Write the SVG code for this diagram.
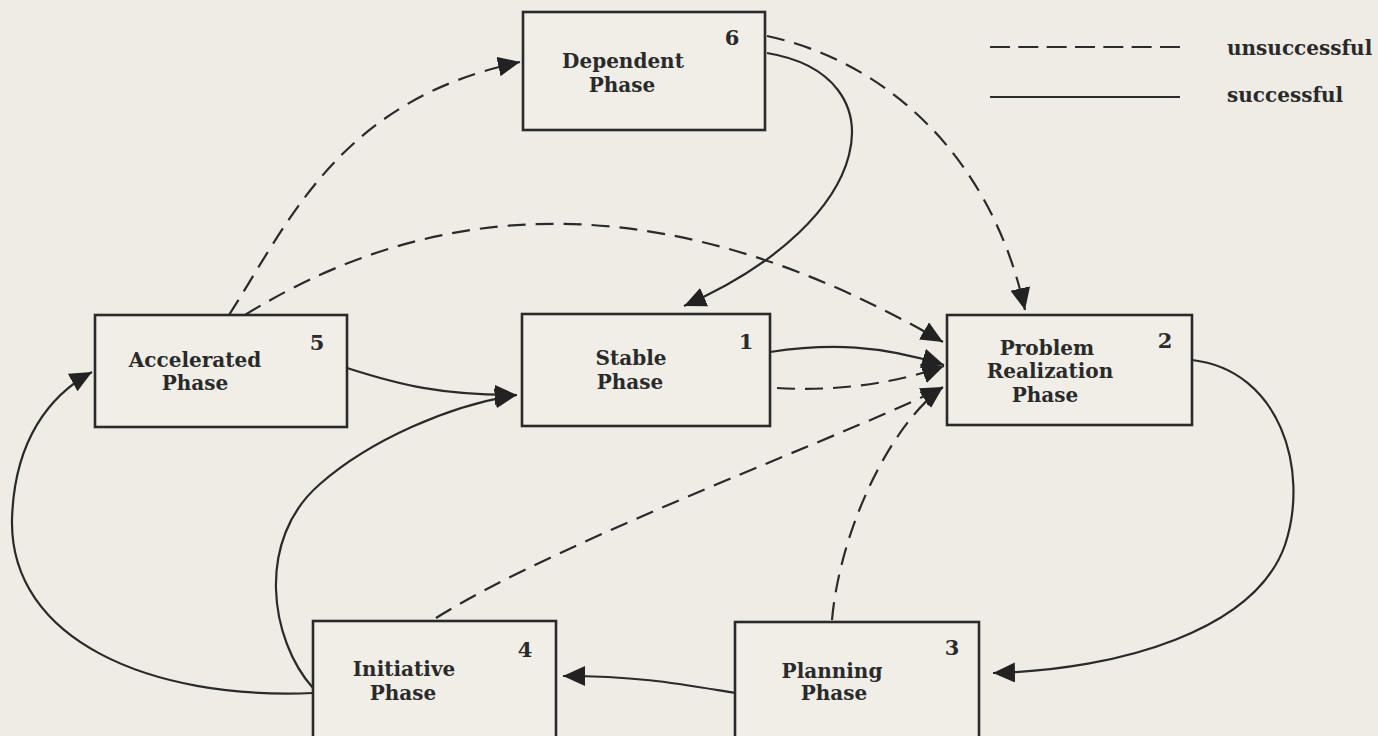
<svg xmlns="http://www.w3.org/2000/svg" width="1378" height="736" viewBox="0 0 1378 736">
<defs>
<style>
.bg{fill:#efece6}
.box{fill:#f1eee8;stroke:#2a2a2a;stroke-width:2.6}
.lbl{font-family:"DejaVu Serif","Liberation Serif",serif;font-weight:bold;font-size:20px;fill:#2a2a2a;text-anchor:middle}
.num{font-family:"DejaVu Serif","Liberation Serif",serif;font-weight:bold;font-size:21px;fill:#2a2a2a;text-anchor:middle}
.leg{font-family:"DejaVu Serif","Liberation Serif",serif;font-weight:bold;font-size:20px;fill:#2a2a2a}
.s{fill:none;stroke:#2a2a2a;stroke-width:2.2}
.d{fill:none;stroke:#2a2a2a;stroke-width:2.2;stroke-dasharray:18 10}
.a{marker-end:url(#ah)}
</style>
<marker id="ah" markerUnits="userSpaceOnUse" markerWidth="24" markerHeight="22" refX="22" refY="10" orient="auto" viewBox="0 0 24 22">
<path d="M0,0 L22,10 L0,20 z" fill="#222"/>
</marker>
</defs>
<rect class="bg" x="0" y="0" width="1378" height="736"/>

<g id="legend">
<line x1="990" y1="47" x2="1180" y2="47" stroke="#2a2a2a" stroke-width="2.2" stroke-dasharray="20 8.33"/>
<text class="leg" x="1227" y="55">unsuccessful</text>
<line x1="990" y1="97" x2="1180" y2="97" stroke="#2a2a2a" stroke-width="2.2"/>
<text class="leg" x="1227" y="102">successful</text>
</g>

<g id="connectors">
<!-- 6 -> 1 solid -->
<path class="s a" d="M767 53 C900 75 880 220 684 306"/>
<!-- 6 -> 2 dashed -->
<path class="d a" d="M767 36 C880 60 990 150 1025 310"/>
<!-- 5 -> 6 dashed -->
<path class="d a" d="M229 315 C290 220 340 100 520 62"/>
<!-- 5 -> 2 dashed -->
<path class="d a" d="M245 315 Q560 120 943 342"/>
<!-- 5 -> 1 solid -->
<path class="s a" d="M347 368 C400 385 440 395 517 395"/>
<!-- 4 -> 1 solid -->
<path class="s a" d="M313 688 C270 640 255 540 320 484 C370 440 450 405 517 395"/>
<!-- 4 -> 5 solid -->
<path class="s a" d="M313 693 C150 700 10 640 12 520 C14 440 50 395 92 372"/>
<!-- 1 -> 2 solid -->
<path class="s a" d="M770 352 C830 343 880 345 944 365"/>
<!-- 1 -> 2 dashed -->
<path class="d a" d="M777 388 C840 392 900 382 944 366"/>
<!-- 4 -> 2 dashed -->
<path class="d a" d="M436 618 C560 540 860 430 943 387"/>
<!-- 3 -> 2 dashed -->
<path class="d a" d="M832 620 C840 530 890 425 943 387"/>
<!-- 2 -> 3 solid -->
<path class="s a" d="M1192 360 C1280 370 1310 470 1285 545 C1255 630 1120 670 993 673"/>
<!-- 3 -> 4 solid -->
<path class="s a" d="M735 693 C680 684 640 676 563 676"/>
</g>

<g id="node6">
<rect class="box" x="523" y="12" width="242" height="118"/>
<text class="lbl" x="623" y="68">Dependent</text>
<text class="lbl" x="622" y="92">Phase</text>
<text class="num" x="732" y="45">6</text>
</g>

<g id="node5">
<rect class="box" x="95" y="315" width="252" height="112"/>
<text class="lbl" x="195" y="367">Accelerated</text>
<text class="lbl" x="195" y="390">Phase</text>
<text class="num" x="317" y="350">5</text>
</g>

<g id="node1">
<rect class="box" x="522" y="314" width="248" height="112"/>
<text class="lbl" x="631" y="365">Stable</text>
<text class="lbl" x="630" y="389">Phase</text>
<text class="num" x="746" y="349">1</text>
</g>

<g id="node2">
<rect class="box" x="947" y="315" width="245" height="110"/>
<text class="lbl" x="1047" y="355">Problem</text>
<text class="lbl" x="1050" y="378">Realization</text>
<text class="lbl" x="1045" y="402">Phase</text>
<text class="num" x="1165" y="348">2</text>
</g>

<g id="node4">
<rect class="box" x="313" y="621" width="243" height="130"/>
<text class="lbl" x="404" y="676">Initiative</text>
<text class="lbl" x="403" y="700">Phase</text>
<text class="num" x="525" y="657">4</text>
</g>

<g id="node3">
<rect class="box" x="735" y="622" width="244" height="130"/>
<text class="lbl" x="832" y="678">Planning</text>
<text class="lbl" x="834" y="700">Phase</text>
<text class="num" x="952" y="655">3</text>
</g>
</svg>
